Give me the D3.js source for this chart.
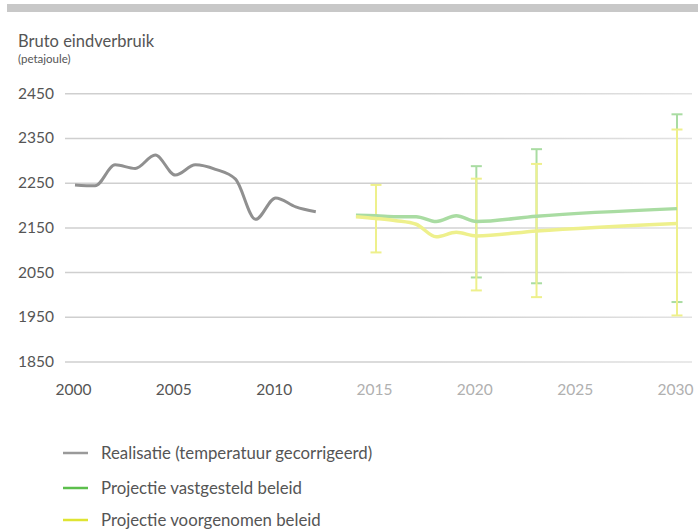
<!DOCTYPE html>
<html><head><meta charset="utf-8">
<script src="https://cdn.jsdelivr.net/npm/d3@7"></script>
<style>body{margin:0;background:#fff;} svg{display:block;}</style>
</head><body>
<svg id="c" width="698" height="530"></svg>
<script>
// ---- data ----
const yTicks = [1850, 1950, 2050, 2150, 2250, 2350, 2450];
const xTicks = [2000, 2005, 2010, 2015, 2020, 2025, 2030];
const realYears = [2000,2001,2002,2003,2004,2005,2006,2007,2008,2009,2010,2011,2012];
const realValues = [2245,2243,2290,2282,2312,2267,2290,2280,2258,2168,2216,2196,2185];
const projYears = [2014,2015,2016,2017,2018,2019,2020,2023,2030];
const vastValues = [2177,2176,2174,2174,2163,2176,2163,2175,2192];
const voorValues = [2174,2170,2165,2157,2129,2139,2131,2142,2159];
const barYears = [2015,2020,2023,2030];
const vastLow  = [null,2038,2025,1983];
const vastHigh = [null,2287,2325,2403];
const voorLow  = [2094,2009,1994,1953];
const voorHigh = [2245,2259,2292,2369];
const legendLabels = ["Realisatie (temperatuur gecorrigeerd)","Projectie vastgesteld beleid","Projectie voorgenomen beleid"];

const svg = d3.select("#c");
const font = "Lato, 'Open Sans', sans-serif";
const x = d3.scaleLinear().domain([2000,2030]).range([75,677]);
const y = d3.scaleLinear().domain([1850,2450]).range([361.5,93.3]);

// top band
svg.append("rect").attr("x",7).attr("y",4).attr("width",691).attr("height",8).attr("fill","#c8c8c8");

// titles
svg.append("text").attr("x",18).attr("y",47).attr("font-family",font).attr("font-size",16.5).attr("fill","#555").text("Bruto eindverbruik");
svg.append("text").attr("x",18).attr("y",63).attr("font-family",font).attr("font-size",11.5).attr("fill","#555").text("(petajoule)");

// gradient for grid
const defs = svg.append("defs");
const g = defs.append("linearGradient").attr("id","gg").attr("gradientUnits","userSpaceOnUse")
  .attr("x1",65).attr("x2",692).attr("y1",0).attr("y2",0);
g.append("stop").attr("offset","0%").attr("stop-color","#cfcfcf");
g.append("stop").attr("offset","45%").attr("stop-color","#cfcfcf");
g.append("stop").attr("offset","100%").attr("stop-color","#e6e6e6");

// y axis
const yAxis = d3.axisLeft(y).tickValues(yTicks).tickSize(-(692-65)).tickFormat(d3.format("d"));
const ya = svg.append("g").attr("transform","translate(65,0)").call(yAxis);
ya.select(".domain").remove();
ya.selectAll(".tick line").attr("stroke","url(#gg)").attr("stroke-width",1.5);
ya.selectAll(".tick text").attr("x",-47).attr("text-anchor","start").attr("font-family",font).attr("font-size",15.5).attr("fill","#555");

// x axis
const xAxis = d3.axisBottom(x).tickValues(xTicks).tickSize(0).tickFormat(d3.format("d"));
const xa = svg.append("g").attr("transform","translate(-2,381)").call(xAxis);
xa.select(".domain").remove();
xa.selectAll(".tick text").attr("font-family",font).attr("font-size",15.5)
  .attr("fill", d => d <= 2010 ? "#555" : "#b0b0b0");

// error bars
const vastC = "#a9dca2", voorC = "#eef08c";
function bars(lows, highs, color){
  const grp = svg.append("g");
  barYears.forEach((yr,i)=>{
    if (lows[i]==null) return;
    const cx = x(yr);
    grp.append("line").attr("x1",cx).attr("x2",cx).attr("y1",y(highs[i])).attr("y2",y(lows[i])).attr("stroke",color).attr("stroke-width",2);
    [highs[i],lows[i]].forEach(v=>{
      grp.append("line").attr("x1",cx-5.5).attr("x2",cx+5.5).attr("y1",y(v)).attr("y2",y(v)).attr("stroke",color).attr("stroke-width",2);
    });
  });
}
bars(vastLow, vastHigh, vastC);
bars(voorLow, voorHigh, voorC);

const line = d3.line().x(d=>x(d[0])).y(d=>y(d[1])).curve(d3.curveMonotoneX);
svg.append("path").datum(projYears.map((d,i)=>[d,vastValues[i]])).attr("d",line).attr("fill","none").attr("stroke",vastC).attr("stroke-width",3.5);
svg.append("path").datum(projYears.map((d,i)=>[d,voorValues[i]])).attr("d",line).attr("fill","none").attr("stroke",voorC).attr("stroke-width",3.5);
svg.append("path").datum(realYears.map((d,i)=>[d,realValues[i]])).attr("d",line).attr("fill","none").attr("stroke","#909090").attr("stroke-width",3);

// legend
const legColors = ["#9a9a9a","#5cbf4c","#dfe433"];
const legY = [453, 488, 520];
legendLabels.forEach((t,i)=>{
  svg.append("line").attr("x1",63).attr("x2",88).attr("y1",legY[i]).attr("y2",legY[i]).attr("stroke",legColors[i]).attr("stroke-width",2.5);
  svg.append("text").attr("x",101).attr("y",legY[i]+6).attr("font-family",font).attr("font-size",16.8).attr("fill","#555").text(t);
});
</script>
</body></html>
